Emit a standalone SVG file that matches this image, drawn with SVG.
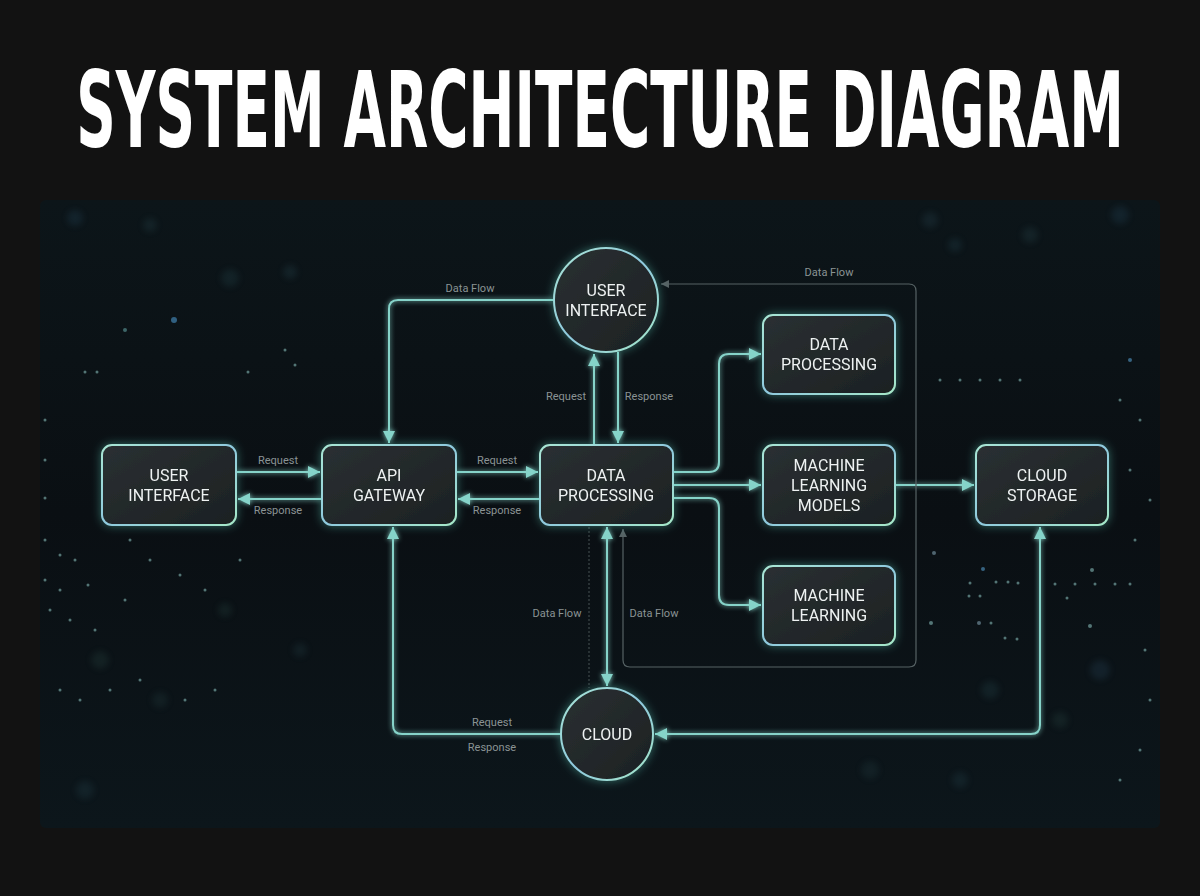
<svg xmlns="http://www.w3.org/2000/svg" width="1200" height="896" viewBox="0 0 1200 896">
<defs>
<style>
.node rect, .node circle { fill: url(#nodeFill); stroke: url(#nodeStroke); stroke-width: 2; }
.ntext { font-family: Roboto, "Liberation Sans", sans-serif; font-size: 16px; fill: #eef2f2; text-anchor: middle; }
.lbl { font-family: Roboto, "Liberation Sans", sans-serif; font-size: 11px; fill: #8a9394; text-anchor: middle; }
.conn { fill: none; stroke: #86d3c9; stroke-width: 2; }
.thin { fill: none; stroke: #566264; stroke-width: 1.2; }
.dot { fill: none; stroke: #3e484a; stroke-width: 1.2; stroke-dasharray: 2 2; }
.p { fill: #8fc7c4; }
</style>
<linearGradient id="nodeFill" x1="0" y1="0" x2="1" y2="1">
<stop offset="0" stop-color="#2a3032"/>
<stop offset="1" stop-color="#1c2123"/>
</linearGradient>
<linearGradient id="nodeStroke" x1="0" y1="0" x2="1" y2="1">
<stop offset="0" stop-color="#a9e6d4"/>
<stop offset="0.5" stop-color="#8fc9de"/>
<stop offset="1" stop-color="#a6e8c8"/>
</linearGradient>
<linearGradient id="panelFill" x1="0" y1="0" x2="0" y2="1">
<stop offset="0" stop-color="#0c1519"/>
<stop offset="0.5" stop-color="#0a0f13"/>
<stop offset="1" stop-color="#0c161b"/>
</linearGradient>
<filter id="glow" x="-30%" y="-30%" width="160%" height="160%">
<feGaussianBlur in="SourceAlpha" stdDeviation="5" result="b"/>
<feFlood flood-color="#5fd3c0" flood-opacity="0.45"/>
<feComposite in2="b" operator="in" result="g"/>
<feMerge><feMergeNode in="g"/><feMergeNode in="SourceGraphic"/></feMerge>
</filter>
<filter id="lglow" x="-10%" y="-10%" width="120%" height="120%">
<feGaussianBlur in="SourceGraphic" stdDeviation="2.5" result="b"/>
<feMerge><feMergeNode in="b"/><feMergeNode in="SourceGraphic"/></feMerge>
</filter>
<filter id="soft"><feGaussianBlur stdDeviation="3"/></filter>
<marker id="ah" markerUnits="userSpaceOnUse" markerWidth="14" markerHeight="14" refX="12" refY="7" orient="auto-start-reverse">
<path d="M0,1 L12,7 L0,13 Z" fill="#86d3c9"/>
</marker>
<marker id="ahg" markerUnits="userSpaceOnUse" markerWidth="10" markerHeight="10" refX="8" refY="5" orient="auto-start-reverse">
<path d="M0,1 L8,5 L0,9 Z" fill="#566264"/>
</marker>
</defs>

<rect width="1200" height="896" fill="#121212"/>
<rect x="40" y="200" width="1120" height="628" rx="6" fill="url(#panelFill)"/>

<g id="particles" opacity="0.55">
<g filter="url(#soft)" opacity="0.5">
<circle cx="75" cy="218" r="8" fill="#274a5e"/><circle cx="150" cy="225" r="7" fill="#2a4a50"/>
<circle cx="230" cy="278" r="9" fill="#274a50"/><circle cx="290" cy="272" r="7" fill="#2b4b55"/>
<circle cx="1120" cy="215" r="9" fill="#274a5e"/><circle cx="1030" cy="235" r="8" fill="#2a4a50"/>
<circle cx="955" cy="245" r="7" fill="#284a55"/><circle cx="930" cy="220" r="8" fill="#2a4652"/>
<circle cx="100" cy="660" r="9" fill="#2a4a44"/><circle cx="160" cy="700" r="8" fill="#254043"/>
<circle cx="1100" cy="670" r="10" fill="#2a4a5e"/><circle cx="1060" cy="720" r="8" fill="#2a4a44"/>
<circle cx="225" cy="610" r="7" fill="#2a4a44"/><circle cx="990" cy="690" r="9" fill="#284850"/>
<circle cx="870" cy="770" r="9" fill="#253f45"/><circle cx="960" cy="780" r="8" fill="#274550"/>
<circle cx="85" cy="790" r="9" fill="#274550"/><circle cx="300" cy="650" r="7" fill="#26434a"/>
</g>
<circle cx="174" cy="320" r="3" fill="#4f9fd8"/><circle cx="125" cy="330" r="2" fill="#6aa"/>
<circle cx="85" cy="372" r="1.5" class="p"/><circle cx="97" cy="372" r="1.5" class="p"/><circle cx="248" cy="372" r="1.5" class="p"/>
<circle cx="285" cy="350" r="1.5" class="p"/><circle cx="295" cy="365" r="1.5" class="p"/>
<circle cx="45" cy="420" r="1.5" class="p"/><circle cx="45" cy="460" r="1.5" class="p"/><circle cx="45" cy="498" r="1.5" class="p"/>
<circle cx="45" cy="540" r="1.5" class="p"/><circle cx="60" cy="555" r="1.5" class="p"/><circle cx="75" cy="560" r="1.5" class="p"/>
<circle cx="45" cy="580" r="1.5" class="p"/><circle cx="60" cy="590" r="1.5" class="p"/><circle cx="88" cy="585" r="1.5" class="p"/>
<circle cx="50" cy="610" r="1.5" class="p"/><circle cx="70" cy="620" r="1.5" class="p"/><circle cx="95" cy="630" r="1.5" class="p"/>
<circle cx="130" cy="540" r="1.5" class="p"/><circle cx="150" cy="560" r="1.5" class="p"/><circle cx="180" cy="575" r="1.5" class="p"/>
<circle cx="125" cy="600" r="1.5" class="p"/><circle cx="205" cy="590" r="1.5" class="p"/><circle cx="240" cy="560" r="1.5" class="p"/>
<circle cx="940" cy="380" r="1.5" class="p"/><circle cx="960" cy="380" r="1.5" class="p"/><circle cx="980" cy="380" r="1.5" class="p"/>
<circle cx="1000" cy="380" r="1.5" class="p"/><circle cx="1020" cy="380" r="1.5" class="p"/><circle cx="1130" cy="360" r="2" fill="#5aa6d8"/>
<circle cx="1120" cy="400" r="1.5" class="p"/><circle cx="1140" cy="420" r="1.5" class="p"/><circle cx="1130" cy="470" r="1.5" class="p"/>
<circle cx="1150" cy="500" r="1.5" class="p"/><circle cx="1135" cy="540" r="1.5" class="p"/>
<circle cx="934" cy="553" r="2" fill="#8ab"/><circle cx="983" cy="569" r="2" fill="#5aa6d8"/><circle cx="996" cy="582" r="1.5" class="p"/>
<circle cx="1008" cy="582" r="1.5" class="p"/><circle cx="970" cy="583" r="1.5" class="p"/><circle cx="1018" cy="583" r="1.5" class="p"/>
<circle cx="969" cy="596" r="1.5" class="p"/><circle cx="980" cy="596" r="1.5" class="p"/>
<circle cx="1092" cy="570" r="2" class="p"/><circle cx="1055" cy="584" r="1.5" class="p"/><circle cx="1075" cy="584" r="1.5" class="p"/>
<circle cx="1095" cy="584" r="1.5" class="p"/><circle cx="1115" cy="584" r="1.5" class="p"/><circle cx="1130" cy="584" r="1.5" class="p"/>
<circle cx="1067" cy="598" r="1.5" class="p"/><circle cx="931" cy="623" r="2" class="p"/><circle cx="979" cy="623" r="2" fill="#8ab"/>
<circle cx="991" cy="623" r="1.5" class="p"/><circle cx="1090" cy="626" r="2" class="p"/><circle cx="1005" cy="638" r="1.5" class="p"/>
<circle cx="1017" cy="639" r="1.5" class="p"/><circle cx="1145" cy="650" r="1.5" class="p"/><circle cx="1150" cy="700" r="1.5" class="p"/>
<circle cx="60" cy="690" r="1.5" class="p"/><circle cx="80" cy="700" r="1.5" class="p"/><circle cx="110" cy="690" r="1.5" class="p"/>
<circle cx="140" cy="680" r="1.5" class="p"/><circle cx="185" cy="700" r="1.5" class="p"/><circle cx="215" cy="690" r="1.5" class="p"/>
<circle cx="1140" cy="750" r="1.5" class="p"/><circle cx="1120" cy="780" r="1.5" class="p"/>
</g>

<text transform="translate(600,147) scale(1,1.71)" x="0" y="0" font-family="'DejaVu Sans Condensed', 'Liberation Sans Narrow', 'Liberation Sans', sans-serif" font-weight="bold" font-size="61" fill="#ffffff" text-anchor="middle">SYSTEM ARCHITECTURE DIAGRAM</text>

<g id="connectors">
<g filter="url(#lglow)">
<path class="conn" d="M236,472 H320" marker-end="url(#ah)"/>
<path class="conn" d="M322,499 H238" marker-end="url(#ah)"/>
<path class="conn" d="M456,472 H538" marker-end="url(#ah)"/>
<path class="conn" d="M540,499 H458" marker-end="url(#ah)"/>
<path class="conn" d="M554,300 H398 Q389,300 389,309 V443" marker-end="url(#ah)"/>
<path class="conn" d="M594,445 V354" marker-end="url(#ah)"/>
<path class="conn" d="M618,352 V443" marker-end="url(#ah)"/>
<path class="conn" d="M673,472 H709 Q719,472 719,462 V364 Q719,354 729,354 H761" marker-end="url(#ah)"/>
<path class="conn" d="M673,485 H761" marker-end="url(#ah)"/>
<path class="conn" d="M673,498 H709 Q719,498 719,508 V595 Q719,605 729,605 H761" marker-end="url(#ah)"/>
<path class="conn" d="M895,485 H974" marker-end="url(#ah)"/>
<path class="conn" d="M607,527 V686" marker-start="url(#ah)" marker-end="url(#ah)"/>
<path class="conn" d="M561,734 H402 Q393,734 393,725 V527" marker-end="url(#ah)"/>
<path class="conn" d="M1040,527 V725 Q1040,734 1031,734 H655" marker-start="url(#ah)" marker-end="url(#ah)"/>
</g>
<path class="dot" d="M589,527 V688"/>
<path class="thin" d="M623,529 V660 Q623,667 630,667 H909 Q916,667 916,660 V291 Q916,284 909,284 H661" marker-start="url(#ahg)" marker-end="url(#ahg)"/>
</g>

<g id="labels">
<text class="lbl" x="278" y="464">Request</text>
<text class="lbl" x="278" y="514">Response</text>
<text class="lbl" x="497" y="464">Request</text>
<text class="lbl" x="497" y="514">Response</text>
<text class="lbl" x="470" y="292">Data Flow</text>
<text class="lbl" x="566" y="400">Request</text>
<text class="lbl" x="649" y="400">Response</text>
<text class="lbl" x="829" y="276">Data Flow</text>
<text class="lbl" x="557" y="617">Data Flow</text>
<text class="lbl" x="654" y="617">Data Flow</text>
<text class="lbl" x="492" y="726">Request</text>
<text class="lbl" x="492" y="751">Response</text>
</g>

<g id="ui-left" class="node" filter="url(#glow)">
<rect x="102" y="445" width="134" height="80" rx="10"/>
<text class="ntext" x="169" y="481">USER</text>
<text class="ntext" x="169" y="501">INTERFACE</text>
</g>
<g id="api-gateway" class="node" filter="url(#glow)">
<rect x="322" y="445" width="134" height="80" rx="10"/>
<text class="ntext" x="389" y="481">API</text>
<text class="ntext" x="389" y="501">GATEWAY</text>
</g>
<g id="data-processing" class="node" filter="url(#glow)">
<rect x="540" y="445" width="133" height="80" rx="10"/>
<text class="ntext" x="606" y="481">DATA</text>
<text class="ntext" x="606" y="501">PROCESSING</text>
</g>
<g id="data-processing-2" class="node" filter="url(#glow)">
<rect x="763" y="315" width="132" height="79" rx="10"/>
<text class="ntext" x="829" y="350">DATA</text>
<text class="ntext" x="829" y="370">PROCESSING</text>
</g>
<g id="ml-models" class="node" filter="url(#glow)">
<rect x="763" y="445" width="132" height="80" rx="10"/>
<text class="ntext" x="829" y="471">MACHINE</text>
<text class="ntext" x="829" y="491">LEARNING</text>
<text class="ntext" x="829" y="511">MODELS</text>
</g>
<g id="ml" class="node" filter="url(#glow)">
<rect x="763" y="566" width="132" height="79" rx="10"/>
<text class="ntext" x="829" y="601">MACHINE</text>
<text class="ntext" x="829" y="621">LEARNING</text>
</g>
<g id="cloud-storage" class="node" filter="url(#glow)">
<rect x="976" y="445" width="132" height="80" rx="10"/>
<text class="ntext" x="1042" y="481">CLOUD</text>
<text class="ntext" x="1042" y="501">STORAGE</text>
</g>
<g id="ui-circle" class="node" filter="url(#glow)">
<circle cx="606" cy="300" r="52"/>
<text class="ntext" x="606" y="296">USER</text>
<text class="ntext" x="606" y="316">INTERFACE</text>
</g>
<g id="cloud" class="node" filter="url(#glow)">
<circle cx="607" cy="734" r="46"/>
<text class="ntext" x="607" y="740">CLOUD</text>
</g>
</svg>
